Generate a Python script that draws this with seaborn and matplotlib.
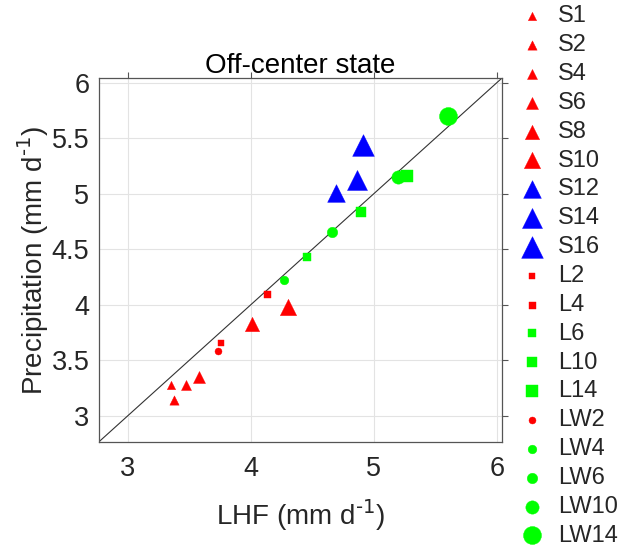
import matplotlib
matplotlib.use("Agg")
import matplotlib.pyplot as plt
import seaborn as sns
import numpy as np

# ---- data ----
names = ["S1", "S2", "S4", "S6", "S8", "S10", "S12", "S14", "S16",
         "L2", "L4", "L6", "L10", "L14",
         "LW2", "LW4", "LW6", "LW10", "LW14"]
lhf = [3.35, 3.38, 3.47, 3.58, 4.01, 4.30, 4.69, 4.86, 4.91,
       3.76, 4.135, 4.46, 4.90, 5.27,
       3.73, 4.27, 4.66, 5.20, 5.60]
precip = [3.28, 3.14, 3.28, 3.35, 3.83, 3.98, 5.01, 5.12, 5.44,
          3.66, 4.10, 4.43, 4.84, 5.16,
          3.58, 4.22, 4.66, 5.15, 5.70]
x_ticks = [3, 4, 5, 6]
y_ticks = [3, 3.5, 4, 4.5, 5, 5.5, 6]

# ---- style ----
colors = ["red"] * 6 + ["blue"] * 3 + ["red"] * 2 + ["lime"] * 3 + ["red"] + ["lime"] * 4
markers = ["^"] * 9 + ["s"] * 5 + ["o"] * 5
size_px = [8.3, 9.3, 10, 12, 14.3, 16.3, 17.7, 20, 21.7,
           5.7, 7, 8.3, 10.7, 11.3,
           7, 8.7, 10.5, 13.3, 18]

sns.set_style("white")
plt.rcParams["font.family"] = ["Liberation Sans", "DejaVu Sans"]

fig = plt.figure(figsize=(6.19, 5.46), dpi=100)
ax = fig.add_axes([0.160, 0.191, 0.6505, 0.6656])

for n, xv, yv, c, m, sp in zip(names, lhf, precip, colors, markers, size_px):
    s_pt = sp * 0.72
    sns.scatterplot(x=[xv], y=[yv], marker=m, s=s_pt ** 2, color=c,
                    edgecolor=c, linewidth=0.3, label=n, ax=ax, zorder=3)

ax.axline((3, 3), slope=1, color="#333333", lw=0.8, zorder=2)

lo, hi = 2.767, 6.04
ax.set_xlim(lo, hi)
ax.set_ylim(lo, hi)
ax.set_xticks(x_ticks)
ax.set_xticklabels([f"{t:g}" for t in x_ticks])
ax.set_yticks(y_ticks)
ax.set_yticklabels([f"{t:g}" for t in y_ticks])
ax.grid(True, color="#e3e3e3", lw=0.8)
ax.set_axisbelow(True)
for side in ["left", "bottom", "top", "right"]:
    ax.spines[side].set_visible(True)
    ax.spines[side].set_color("#555555")
    ax.spines[side].set_linewidth(0.9)
ax.tick_params(axis="both", which="both", direction="out", length=4, width=0.8,
               color="#555555", labelsize=19.5, labelcolor="#262626",
               top=True, right=True, labeltop=False, labelright=False)
ax.tick_params(axis="x", pad=6)
ax.tick_params(axis="y", pad=3)

ax.set_xlabel(r"LHF (mm d$^{\text{-1}}$)", fontsize=20, color="#262626", labelpad=11)
ax.set_ylabel(r"Precipitation (mm d$^{\text{-1}}$)", fontsize=20, color="#262626", labelpad=0)
ax.set_title("Off-center state", fontsize=20, color="black", pad=4)

leg = ax.legend(loc="center left", bbox_to_anchor=(0.841, 0.4945),
                bbox_transform=fig.transFigure, frameon=False, fontsize=17,
                handlelength=1.0, handletextpad=0.58, labelspacing=0.29,
                borderpad=0, borderaxespad=0, markerscale=1.0)
for t in leg.get_texts():
    t.set_color("#262626")

fig.savefig("out.png", dpi=100)
